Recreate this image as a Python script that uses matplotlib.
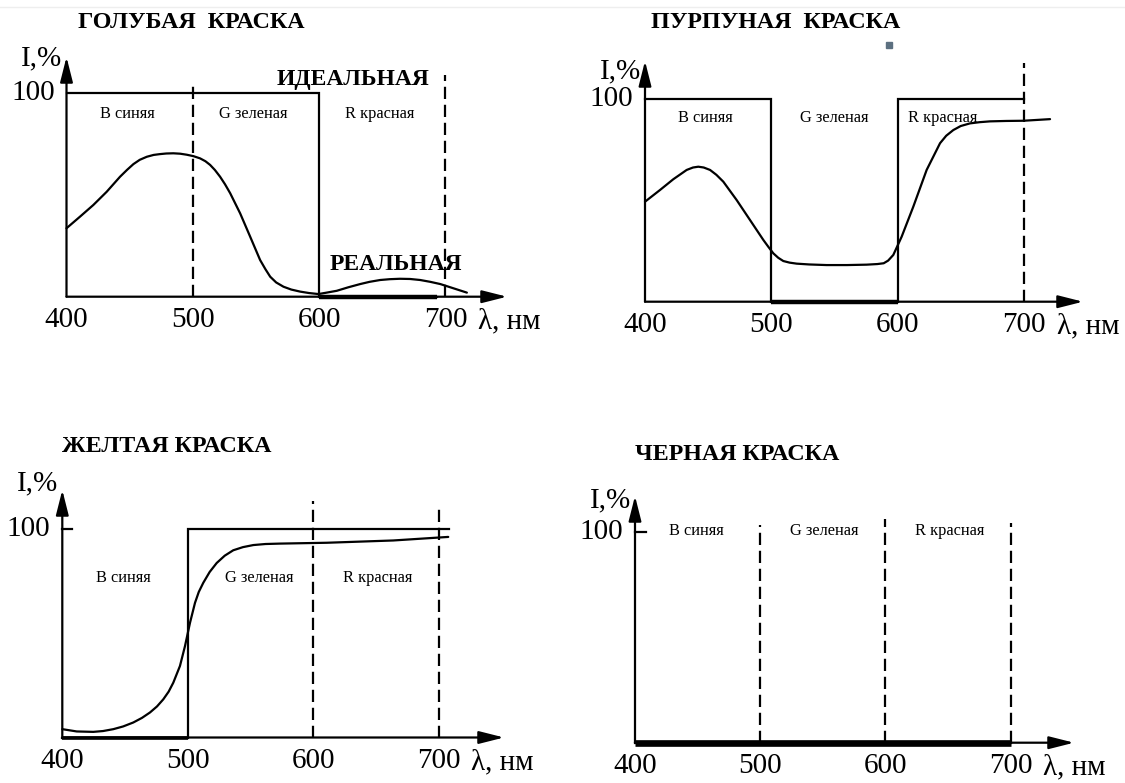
import matplotlib
matplotlib.use("Agg")
import matplotlib.pyplot as plt
from matplotlib.patches import Rectangle, FancyArrowPatch
from matplotlib.lines import Line2D

# ---------------- data ----------------
tick_values = [400, 500, 600, 700]
tick_labels = ["400", "500", "600", "700"]
zone_labels = ["B синяя", "G зеленая", "R красная"]

# Cyan (голубая)
cyan_ideal_x = [400, 600, 600, 693]
cyan_ideal_y = [100, 100, 0, 0]
cyan_real_x = [400, 410.7, 421.2, 431.8, 442.4, 448, 453, 458, 463.6, 469, 474, 479, 484.6,
               490, 495.2, 500.5, 505.8, 510, 513.7, 517.5, 521.6, 525.5, 529.6, 537.5,
               545.4, 553.3, 557.5, 561.3, 566, 571.8, 578, 585, 592, 599.5,
               606, 614, 623, 632.5, 640, 648.4, 656, 664, 672, 680, 688, 696, 706.5, 717]
cyan_real_y = [33.6, 39.3, 45, 51.5, 58.9, 62.3, 65.1, 67.2, 68.7, 69.6, 70, 70.3, 70.4,
               70.2, 69.7, 69, 67.9, 66.5, 64.7, 62.2, 58.9, 55.2, 50.8, 40.9,
               29.5, 18, 13.5, 9.8, 7, 4.9, 3.5, 2.5, 1.8, 1.3,
               2.0, 2.9, 4.6, 6.2, 7.3, 8.2, 8.6, 8.8, 8.7, 8.2, 7.3, 6.2, 4.1, 2]

# Magenta (пурпурная)
magenta_ideal_x = [400, 500, 500, 600, 600, 700]
magenta_ideal_y = [100, 100, 0, 0, 100, 100]
magenta_real_x = [400, 411.9, 422.4, 433, 438, 442.2, 446.5, 451.5, 456.5, 462, 472.6, 483.1,
                  493.7, 497.8, 501.6, 505.5, 509.5, 514.5, 520.1, 530, 543.8, 560, 575.5,
                  584, 589, 592.5, 596.6, 603.2, 612.4, 623, 633.6, 638.5, 644.1, 650,
                  657.3, 665, 673.2, 686, 699.6, 720.7]
magenta_real_y = [49.4, 55.2, 60.5, 65.1, 66.3, 66.7, 66.3, 65.1, 62.7, 59.3, 50.2, 40.4,
                  30.5, 27.0, 23.9, 21.7, 20.1, 19.3, 18.8, 18.4, 18.1, 18.1, 18.3,
                  18.6, 19.0, 20.3, 23.1, 32.1, 46.9, 65.1, 78.3, 82.0, 84.8, 86.8,
                  88.1, 88.7, 89.1, 89.3, 89.4, 90.2]

# Yellow (желтая)
yellow_ideal_x = [400, 500, 500, 708]
yellow_ideal_y = [0, 0, 100, 100]
yellow_real_x = [400, 411.5, 424.7, 432.5, 440.7, 448.5, 456.6, 463.5, 469.9, 475.5, 480.5,
                 484.8, 488.5, 493.8, 497.8, 501.8, 505.8, 508.8, 512.4, 517.5, 523.1, 529.5,
                 536.3, 544, 552.3, 562, 573.6, 610.8, 663.9, 707.7]
yellow_real_y = [4, 2.9, 2.7, 3.1, 4, 5.3, 7.2, 9.4, 12, 14.9, 18.3,
                 22.0, 26.3, 34.3, 43.8, 55, 64.6, 69.8, 74.2, 79.4, 83.7, 87.2,
                 89.8, 91.3, 92.3, 92.8, 93, 93.4, 94.5, 96.2]

# Black (черная)
black_ideal_x = [400, 700]
black_ideal_y = [0, 0]

# ---------------- figure ----------------
W, H = 1125, 783
fig = plt.figure(figsize=(W / 100, H / 100), dpi=100)
fig.patch.set_facecolor("white")
SERIF = ["Liberation Serif", "DejaVu Serif"]
LW = 1.6
DASH = (0, (5.5, 2.6))
NUM_FS = 21


def px2fig(x, y):
    return x / W, 1 - y / H


def make_panel(x400, ppn, y0, ppp, xend, ytop):
    l, b = px2fig(x400, y0)
    ax = fig.add_axes([l, b, (xend - x400) / W, (y0 - ytop) / H])
    xmax = 400 + (xend - x400) / ppn
    ymax = (y0 - ytop) / ppp
    ax.set_xlim(400, xmax)
    ax.set_ylim(0, ymax)
    ax.axis("off")
    for (x1, y1, x2, y2) in [(400, 0, xmax, 0), (400, 0, 400, ymax)]:
        ar = FancyArrowPatch((x1, y1), (x2, y2),
                             arrowstyle="-|>,head_length=0.95,head_width=0.24",
                             mutation_scale=16, lw=LW, color="black",
                             shrinkA=0, shrinkB=0, clip_on=False)
        ax.add_patch(ar)
    for v, t in zip(tick_values, tick_labels):
        ax.annotate(t, xy=(v, 0), xytext=(0, -17), textcoords="offset points",
                    ha="center", va="center", fontsize=NUM_FS, family=SERIF,
                    annotation_clip=False)
    ax.annotate("λ, нм", xy=(726, 0), xytext=(0, -18), textcoords="offset points",
                ha="left", va="center", fontsize=NUM_FS, family=SERIF,
                annotation_clip=False)
    ax.annotate("100", xy=(400, 100), xytext=(-8.5, 0), textcoords="offset points",
                ha="right", va="center", fontsize=NUM_FS, family=SERIF,
                annotation_clip=False)
    return ax


def ylabel(ax, y):
    ax.annotate("I,%", xy=(400, y), xytext=(-3, 0), textcoords="offset points",
                ha="right", va="center", fontsize=NUM_FS, family=SERIF,
                annotation_clip=False)


def vdash(ax, x, top):
    ax.plot([x, x], [0, top], color="black", lw=LW, linestyle=DASH, clip_on=False)


def zones(ax, xs, y):
    for x, t in zip(xs, zone_labels):
        ax.text(x, y, t, ha="center", va="center", fontsize=11.8, family=SERIF)


def ideal(ax, xs, ys, thick):
    ax.plot(xs, ys, color="black", lw=LW, clip_on=False, solid_joinstyle="miter")
    for i in range(len(xs) - 1):
        if ys[i] == 0 and ys[i + 1] == 0:
            ax.plot([xs[i], xs[i + 1]], [0, 0], color="black", lw=thick,
                    clip_on=False, solid_capstyle="butt")


def real(ax, xs, ys):
    ax.plot(xs, ys, color="black", lw=LW, clip_on=False,
            solid_joinstyle="round", solid_capstyle="round")


def title(x, y, t):
    fx, fy = px2fig(x, y)
    fig.text(fx, fy, t, ha="left", va="center", fontsize=17.3,
             fontweight="bold", family=SERIF)


# Panel 1: cyan
ax1 = make_panel(66.5, 1.263, 296.7, 2.037, 507, 57)
ylabel(ax1, 117)
vdash(ax1, 500, 104)
vdash(ax1, 700, 109)
ideal(ax1, cyan_ideal_x, cyan_ideal_y, 3.2)
real(ax1, cyan_real_x, cyan_real_y)
zones(ax1, [448, 547.6, 647.6], 89.5)
ax1.text(627, 106.5, "ИДЕАЛЬНАЯ", ha="center", va="center", fontsize=17,
         fontweight="bold", family=SERIF)
ax1.text(661, 15.7, "РЕАЛЬНАЯ", ha="center", va="center", fontsize=17,
         fontweight="bold", family=SERIF)
title(78, 23, "ГОЛУБАЯ  КРАСКА")

# Panel 2: magenta
ax2 = make_panel(645, 1.263, 301.7, 2.024, 1083, 61)
ylabel(ax2, 114)
vdash(ax2, 700, 117.7)
ideal(ax2, magenta_ideal_x, magenta_ideal_y, 3.2)
real(ax2, magenta_real_x, magenta_real_y)
zones(ax2, [448, 550, 636], 91)
title(651, 23, "ПУРПУНАЯ  КРАСКА")

# Panel 3: yellow
ax3 = make_panel(62.3, 1.2543, 737.5, 2.085, 504, 490)
ylabel(ax3, 122)
ax3.plot([400, 408], [100, 100], color="black", lw=LW, clip_on=False)
vdash(ax3, 600, 113.6)
vdash(ax3, 700, 111)
ideal(ax3, yellow_ideal_x, yellow_ideal_y, 2.6)
real(ax3, yellow_real_x, yellow_real_y)
zones(ax3, [448.4, 557, 651.6], 76.5)
title(62.5, 446, "ЖЕЛТАЯ КРАСКА")

# Panel 4: black
ax4 = make_panel(635, 1.2523, 742.7, 2.11, 1074, 496)
ylabel(ax4, 115)
ax4.plot([400, 408.5], [100, 100], color="black", lw=LW, clip_on=False)
vdash(ax4, 500, 103)
vdash(ax4, 600, 106)
vdash(ax4, 700, 104)
ideal(ax4, black_ideal_x, black_ideal_y, 4.8)
zones(ax4, [449, 551, 651], 100.5)
title(635, 454, "ЧЕРНАЯ КРАСКА")

# decorations from the scan
fig.add_artist(Line2D([0, 1], [1 - 7 / H, 1 - 7 / H], color="#eeeeee", lw=1))
sx, sy = px2fig(886, 48)
fig.add_artist(Rectangle((sx, sy), 6 / W, 6 / H, color="#5c7080"))

fig.savefig("out.png", dpi=100, facecolor="white")
